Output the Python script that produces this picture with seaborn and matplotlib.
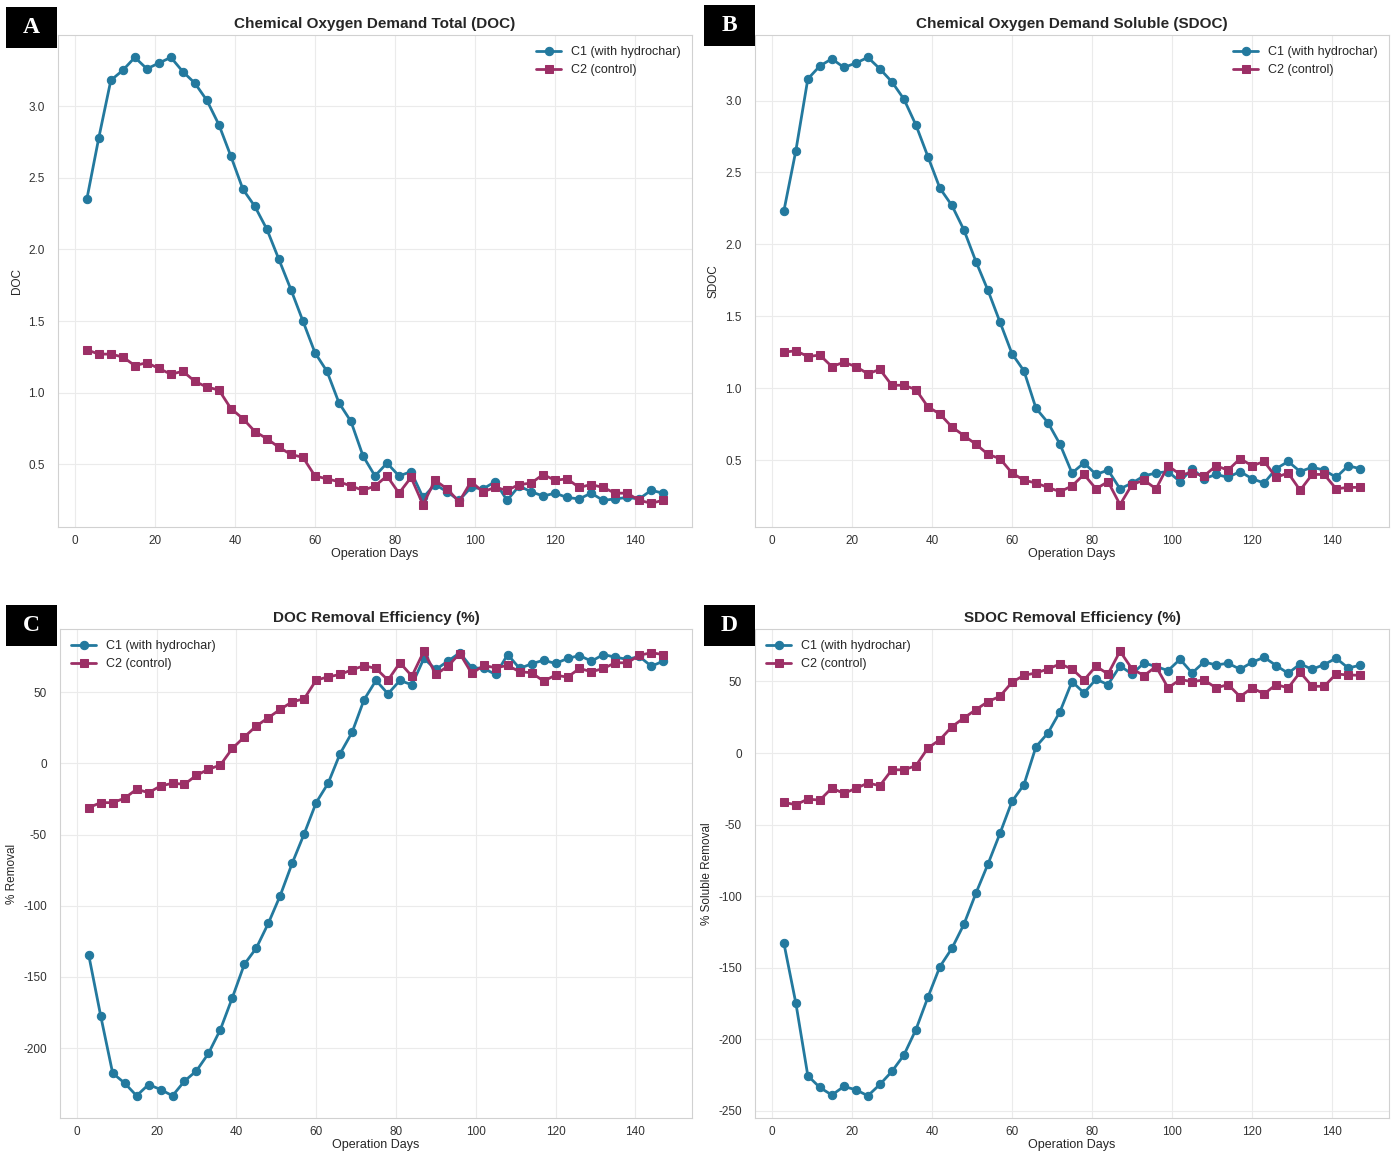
import numpy as np
import pandas as pd
import matplotlib
matplotlib.use("Agg")
import matplotlib.pyplot as plt
from matplotlib.patches import Rectangle
import seaborn as sns

# ── Data ──────────────────────────────────────────────────────────────────────

days = [3, 6, 9, 12, 15, 18, 21, 24, 27, 30,
        33, 36, 39, 42, 45, 48, 51, 54, 57, 60,
        63, 66, 69, 72, 75, 78, 81, 84, 87, 90,
        93, 96, 99, 102, 105, 108, 111, 114, 117, 120,
        123, 126, 129, 132, 135, 138, 141, 144, 147]

doc_c1 = [2.35, 2.78, 3.18, 3.25, 3.34, 3.26, 3.30, 3.34, 3.24, 3.16,
          3.04, 2.87, 2.65, 2.42, 2.30, 2.14, 1.93, 1.72, 1.50, 1.28,
          1.15, 0.93, 0.80, 0.56, 0.42, 0.51, 0.42, 0.45, 0.27, 0.36,
          0.31, 0.25, 0.34, 0.33, 0.38, 0.25, 0.35, 0.31, 0.28, 0.30,
          0.27, 0.26, 0.30, 0.25, 0.26, 0.27, 0.26, 0.32, 0.30]
doc_c2 = [1.30, 1.27, 1.27, 1.25, 1.19, 1.21, 1.17, 1.13, 1.15, 1.08,
          1.04, 1.02, 0.89, 0.82, 0.73, 0.68, 0.62, 0.57, 0.55, 0.42,
          0.40, 0.38, 0.35, 0.32, 0.35, 0.42, 0.30, 0.41, 0.22, 0.39,
          0.33, 0.24, 0.38, 0.31, 0.34, 0.32, 0.36, 0.37, 0.43, 0.39,
          0.40, 0.34, 0.36, 0.34, 0.30, 0.30, 0.25, 0.23, 0.25]

sdoc_c1 = [2.23, 2.65, 3.15, 3.24, 3.29, 3.23, 3.26, 3.30, 3.22, 3.13,
           3.01, 2.83, 2.61, 2.39, 2.27, 2.10, 1.88, 1.68, 1.46, 1.24,
           1.12, 0.86, 0.76, 0.61, 0.41, 0.48, 0.40, 0.43, 0.30, 0.34,
           0.39, 0.41, 0.42, 0.35, 0.44, 0.37, 0.40, 0.38, 0.42, 0.37,
           0.34, 0.44, 0.49, 0.42, 0.45, 0.43, 0.38, 0.46, 0.44]
sdoc_c2 = [1.25, 1.26, 1.22, 1.23, 1.15, 1.18, 1.15, 1.10, 1.13, 1.02,
           1.02, 0.99, 0.87, 0.82, 0.73, 0.67, 0.61, 0.54, 0.51, 0.41,
           0.36, 0.34, 0.31, 0.28, 0.32, 0.40, 0.30, 0.35, 0.19, 0.33,
           0.36, 0.30, 0.46, 0.40, 0.41, 0.39, 0.46, 0.43, 0.51, 0.46,
           0.49, 0.38, 0.41, 0.29, 0.40, 0.40, 0.30, 0.31, 0.31]

doc_rem_c1 = [-134.6, -177.3, -217.5, -224.5, -233.4, -225.5, -229.0, -233.4, -223.1, -215.9,
              -203.7, -186.9, -164.5, -141.1, -129.7, -112.4, -92.8, -70.1, -49.5, -27.6,
              -14.0, 6.8, 21.7, 44.6, 58.2, 48.8, 58.2, 55.1, 73.6, 65.9,
              71.7, 77.6, 67.1, 66.6, 62.4, 76.4, 66.6, 69.9, 72.4, 70.1,
              73.6, 75.7, 71.7, 76.4, 74.5, 73.0, 75.0, 68.2, 71.7]
doc_rem_c2 = [-31.1, -27.6, -27.6, -24.5, -18.2, -20.6, -15.9, -14.0, -14.7, -8.4,
              -4.2, -1.2, 10.5, 18.5, 26.2, 32.0, 37.9, 43.2, 45.3, 58.4,
              60.7, 62.4, 65.7, 68.5, 66.6, 58.4, 70.6, 61.2, 78.7, 62.4,
              68.2, 77.1, 63.1, 68.7, 67.1, 68.7, 64.3, 63.6, 57.7, 61.9,
              60.5, 66.6, 64.3, 66.6, 70.6, 70.6, 75.9, 77.6, 76.4]

sdoc_rem_c1 = [-132.6, -174.6, -225.4, -233.6, -238.9, -232.9, -235.2, -239.4, -231.5, -222.4,
               -211.0, -193.2, -170.6, -149.2, -136.4, -119.6, -97.9, -77.6, -56.2, -33.8,
               -22.1, 4.4, 14.0, 28.9, 49.9, 42.0, 51.5, 47.8, 60.8, 55.2,
               62.9, 60.4, 57.6, 65.5, 55.9, 63.6, 61.5, 62.7, 58.5, 63.4,
               66.9, 61.1, 55.7, 62.2, 58.5, 61.8, 66.2, 59.4, 61.3]
sdoc_rem_c2 = [-34.5, -36.1, -32.2, -32.9, -24.5, -28.2, -24.7, -21.0, -22.8, -11.7,
               -11.7, -8.9, 3.5, 9.3, 18.4, 24.5, 30.3, 35.9, 39.6, 49.4,
               54.3, 55.9, 58.7, 62.2, 58.7, 51.0, 60.6, 55.2, 71.1, 58.7,
               54.1, 60.4, 45.5, 51.3, 49.9, 51.0, 45.5, 47.8, 39.4, 45.5,
               41.3, 47.8, 45.5, 56.4, 46.6, 46.6, 55.2, 54.5, 54.3]

series_names = ["C1 (with hydrochar)", "C2 (control)"]
colors = ["#23799E", "#9C2F66"]
markers = ["o", "s"]

panels = [
    ("A", "Chemical Oxygen Demand Total (DOC)", "DOC", doc_c1, doc_c2, "upper right"),
    ("B", "Chemical Oxygen Demand Soluble (SDOC)", "SDOC", sdoc_c1, sdoc_c2, "upper right"),
    ("C", "DOC Removal Efficiency (%)", "% Removal", doc_rem_c1, doc_rem_c2, "upper left"),
    ("D", "SDOC Removal Efficiency (%)", "% Soluble Removal", sdoc_rem_c1, sdoc_rem_c2, "upper left"),
]

# ── Style ─────────────────────────────────────────────────────────────────────

sns.set_style("whitegrid", {
    "axes.edgecolor": "0.82",
    "grid.color": "0.92",
    "axes.linewidth": 1.3,
})
plt.rcParams["font.family"] = ["Liberation Sans", "DejaVu Sans"]
plt.rcParams["axes.unicode_minus"] = False

W, H = 1395, 1155
fig = plt.figure(figsize=(W / 100, H / 100), dpi=100)

# axes boxes in pixels: left, top, right, bottom
boxes = [
    (58, 35, 692, 527),
    (755, 35, 1389, 527),
    (60, 629, 692, 1118),
    (755, 629, 1389, 1118),
]
label_boxes = [(6, 7), (704, 5), (6, 605), (704, 605)]

for (letter, title, ylabel, c1, c2, loc), (l, t, r, b), (lx, ly) in zip(panels, boxes, label_boxes):
    ax = fig.add_axes([l / W, 1 - b / H, (r - l) / W, (b - t) / H])

    df = pd.DataFrame({
        "day": days * 2,
        "value": c1 + c2,
        "series": [series_names[0]] * len(days) + [series_names[1]] * len(days),
    })
    for name, color, marker in zip(series_names, colors, markers):
        sub = df[df["series"] == name]
        sns.lineplot(data=sub, x="day", y="value", ax=ax, color=color,
                     marker=marker, markersize=6, linewidth=2.0,
                     markeredgecolor=color, label=name)

    ax.set_title(title, fontsize=11, fontweight="bold", pad=5)
    ax.set_xlabel("Operation Days", fontsize=9, labelpad=1)
    ax.set_ylabel(ylabel, fontsize=8.5, labelpad=4)
    ax.tick_params(axis="both", labelsize=8.5, colors="0.2", pad=2)
    ax.tick_params(axis="y", pad=6)
    ax.set_xticks([0, 20, 40, 60, 80, 100, 120, 140])
    ax.legend(loc=loc, fontsize=9, frameon=False)

    # black panel letter box
    bw, bh = 51, 41
    fig.add_artist(Rectangle((lx / W, 1 - (ly + bh) / H), bw / W, bh / H,
                             transform=fig.transFigure, facecolor="black",
                             edgecolor="none"))
    fig.text((lx + bw / 2) / W, 1 - (ly + bh / 2) / H, letter, color="white",
             fontsize=17, fontweight="bold", family=["Liberation Serif", "DejaVu Serif"],
             ha="center", va="center")

fig.savefig("out.png", dpi=100)
plt.close(fig)
